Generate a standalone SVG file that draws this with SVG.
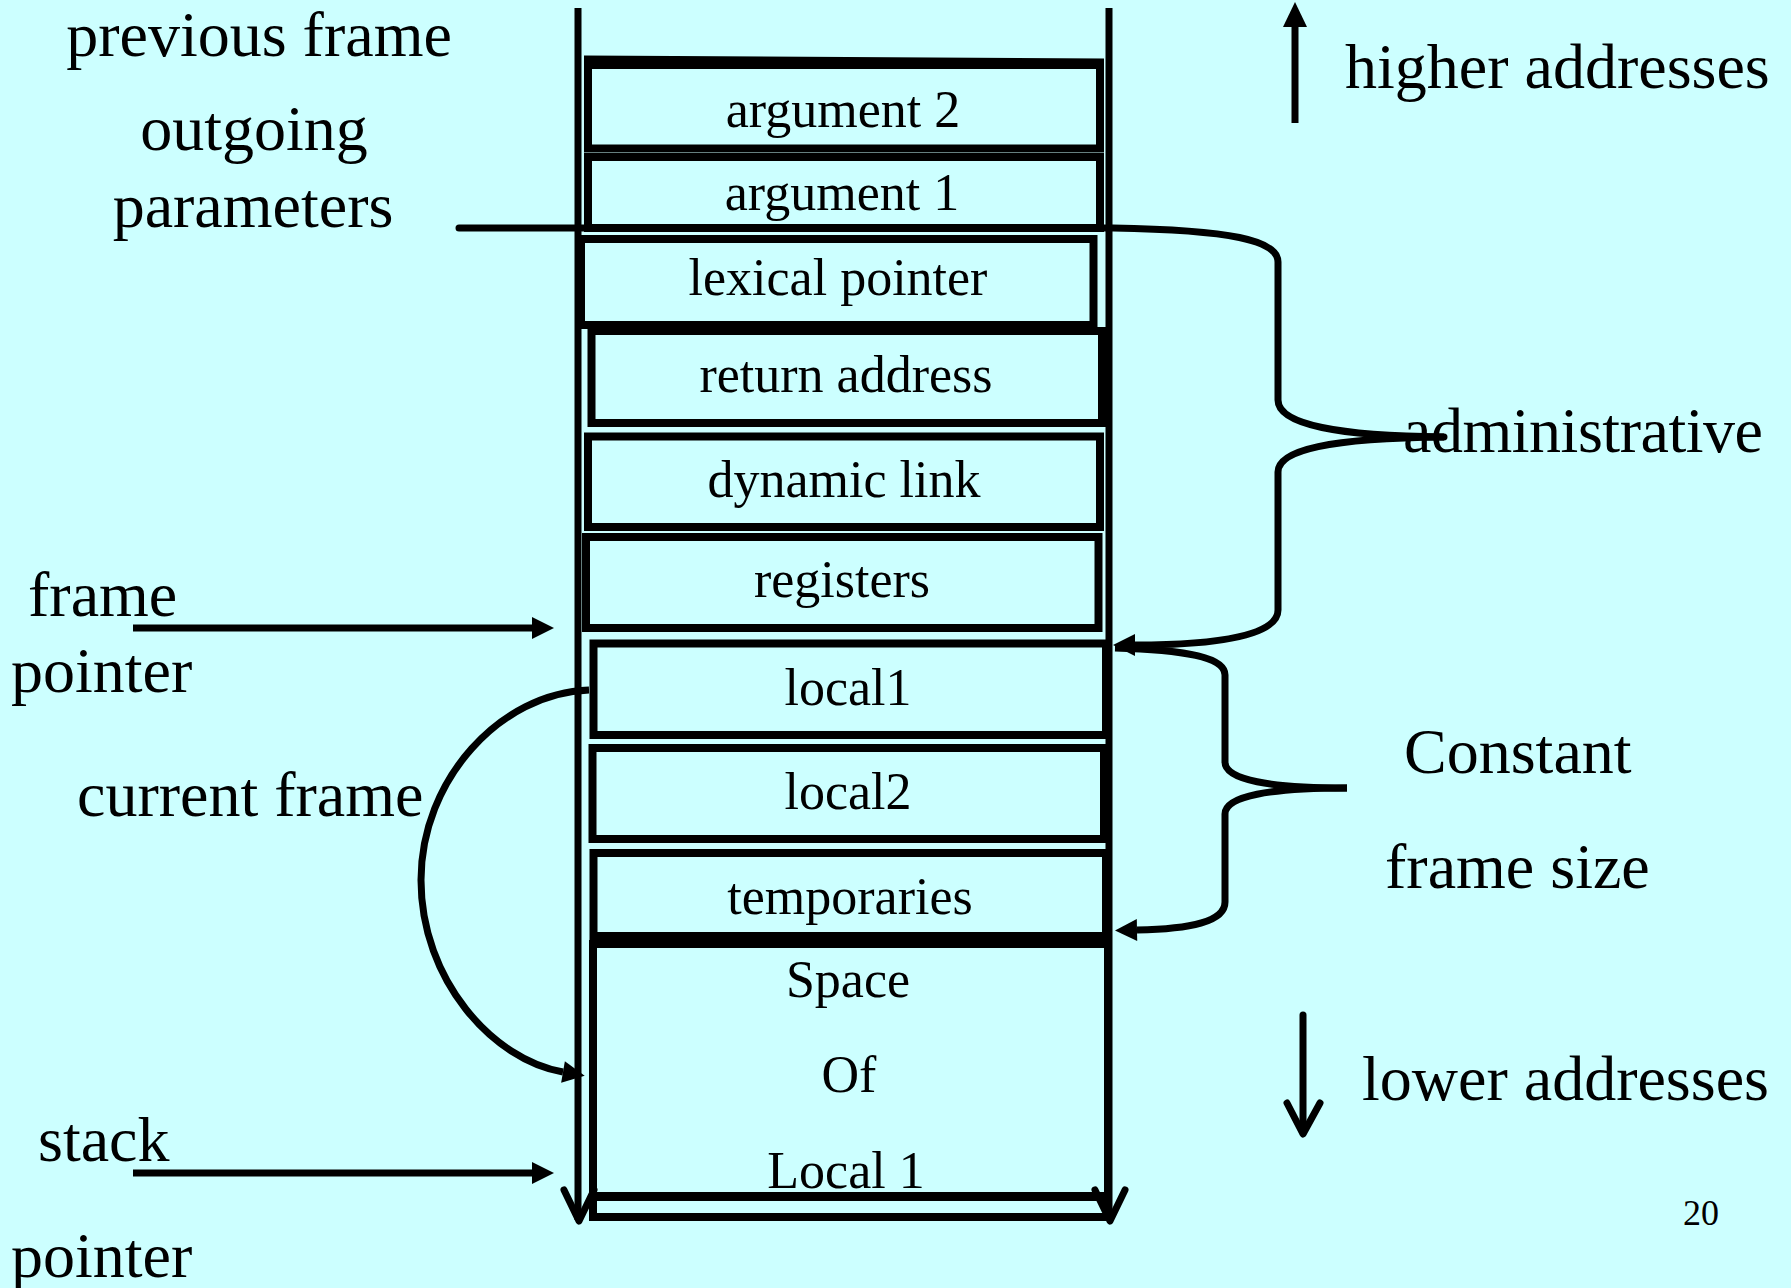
<svg xmlns="http://www.w3.org/2000/svg" width="1791" height="1288" viewBox="0 0 1791 1288">
<style>
  .bg { fill: #CCFFFF; }
  .box { fill: none; stroke: #000; stroke-width: 8; }
  .ln { fill: none; stroke: #000; stroke-width: 7; }
  .rl { fill: none; stroke: #000; stroke-width: 7; stroke-linecap: round; stroke-linejoin: round; }
  .lbl { font-family: "Liberation Serif", "Times New Roman", serif; font-size: 52px; fill: #000; text-anchor: middle; }
  .side { font-family: "Liberation Serif", "Times New Roman", serif; font-size: 64px; fill: #000; }
  .mid { text-anchor: middle; }
  .pg { font-family: "Liberation Serif", "Times New Roman", serif; font-size: 36px; fill: #000; }
</style>
<defs>
  <marker id="tri" markerUnits="userSpaceOnUse" markerWidth="24" markerHeight="24" viewBox="0 -12 24 24" refX="0" refY="0" orient="auto" overflow="visible">
    <path d="M0,-11 L22,0 L0,11 Z" fill="#000"/>
  </marker>
</defs>
<rect class="bg" x="0" y="0" width="1791" height="1288"/>

<g id="stack-walls">
  <path class="ln" d="M578 8 L578 1220"/>
  <path class="rl" d="M564 1190 L579 1221 L594 1190"/>
  <path class="ln" d="M1109 8 L1109 1220"/>
  <path class="rl" d="M1095 1190 L1110 1221 L1125 1190"/>
</g>

<g id="argument2">
  <path class="ln" d="M584 59 L1104 62"/>
  <rect class="box" x="588" y="65" width="512" height="83.5"/>
  <text class="lbl" x="843" y="127">argument 2</text>
</g>
<g id="argument1">
  <rect class="box" x="588" y="157" width="512" height="71"/>
  <text class="lbl" x="842" y="210">argument 1</text>
</g>
<g id="lexical-pointer">
  <rect class="box" x="581" y="239" width="512.5" height="86"/>
  <text class="lbl" x="838" y="295">lexical pointer</text>
</g>
<g id="return-address">
  <rect class="box" x="591.5" y="331" width="510.5" height="92"/>
  <text class="lbl" x="846" y="392">return address</text>
</g>
<g id="dynamic-link">
  <rect class="box" x="588" y="436.5" width="512" height="90.5"/>
  <text class="lbl" x="844" y="497">dynamic link</text>
</g>
<g id="registers">
  <rect class="box" x="586" y="537" width="512.5" height="91"/>
  <text class="lbl" x="842" y="597">registers</text>
</g>
<g id="local1">
  <rect class="box" x="593.5" y="643.5" width="512.5" height="91.5"/>
  <text class="lbl" x="848" y="705">local1</text>
</g>
<g id="local2">
  <rect class="box" x="592.5" y="748" width="511.5" height="91"/>
  <text class="lbl" x="848" y="809">local2</text>
</g>
<g id="temporaries">
  <rect class="box" x="593.5" y="853" width="512.5" height="83"/>
  <text class="lbl" x="850" y="914">temporaries</text>
</g>
<g id="space-of-local1">
  <rect class="box" x="593" y="944" width="515" height="273"/>
  <path class="box" d="M590 1196.5 L1104 1196.5" style="stroke-width:9"/>
  <text class="lbl" x="848" y="997">Space</text>
  <text class="lbl" x="849" y="1092">Of</text>
  <text class="lbl" x="846" y="1188">Local 1</text>
</g>

<g id="labels">
  <text class="side mid" x="259" y="56">previous frame</text>
  <text class="side mid" x="254" y="150">outgoing</text>
  <text class="side mid" x="253" y="227">parameters</text>
  <text class="side" x="28" y="616">frame</text>
  <text class="side" x="11" y="692">pointer</text>
  <text class="side" x="77" y="816">current frame</text>
  <text class="side" x="38" y="1161">stack</text>
  <text class="side" x="11" y="1277">pointer</text>
  <text class="side" x="1345" y="88">higher addresses</text>
  <text class="side" x="1403" y="452" textLength="360" lengthAdjust="spacing">administrative</text>
  <text class="side" x="1404" y="773">Constant</text>
  <text class="side" x="1385" y="888">frame size</text>
  <text class="side" x="1362" y="1100">lower addresses</text>
  <text class="pg" x="1683" y="1225">20</text>
</g>

<g id="connectors">
  <!-- frame pointer -->
  <path class="ln" d="M133 628 L532 628" marker-end="url(#tri)"/>
  <!-- stack pointer -->
  <path class="ln" d="M133 1173 L532 1173" marker-end="url(#tri)"/>
  <!-- current frame curve -->
  <path class="ln" d="M589 690 C500 693 421 780 421 880 C421 980 493 1060 563 1072" marker-end="url(#tri)"/>
  <!-- outgoing parameters line + administrative brace -->
  <path class="rl" d="M459 228 L1113 228 C1230 230 1278 240 1278 262 L1278 400 C1278 425 1340 436 1444 437"/>
  <path class="ln" d="M1444 437 C1330 438 1278 450 1278 472 L1278 610 C1278 635 1220 645 1135 645" marker-end="url(#tri)"/>
  <!-- constant frame size brace -->
  <path class="ln" d="M1115 648 C1190 650 1225 658 1225 675 L1225 762 C1225 780 1270 788 1347 788"/>
  <path class="ln" d="M1347 788 C1270 788 1225 796 1225 814 L1225 902 C1225 922 1190 929 1137 930" marker-end="url(#tri)"/>
  <!-- higher addresses arrow -->
  <path class="ln" d="M1295 123 L1295 26"/>
  <path d="M1283 27 L1295 2 L1307 27 Z" fill="#000"/>
  <!-- lower addresses arrow -->
  <path class="rl" d="M1303 1015 L1303 1132"/>
  <path class="rl" d="M1287 1103 L1303 1134 L1320 1103"/>
</g>
</svg>
